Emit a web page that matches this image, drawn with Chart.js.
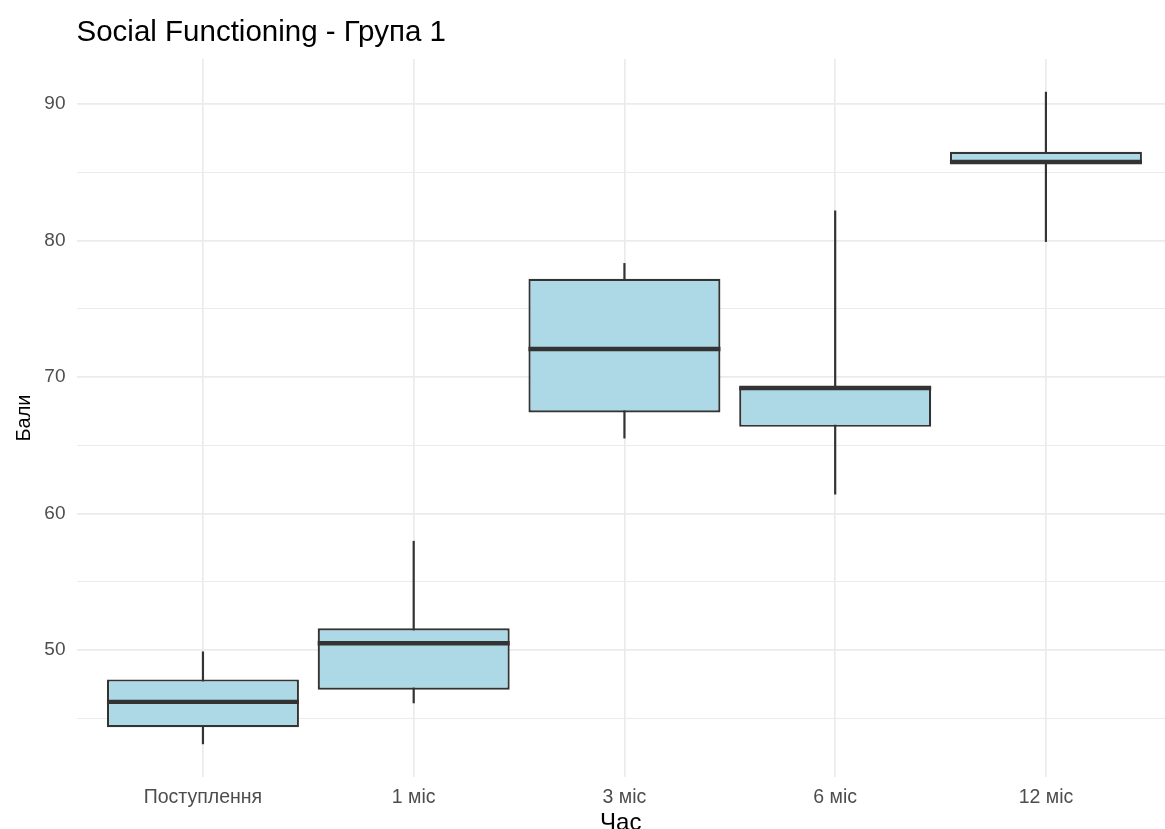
<!DOCTYPE html>
<html>
<head>
<meta charset="utf-8">
<script src="https://cdn.jsdelivr.net/npm/chart.js@4.4.1/dist/chart.umd.min.js"></script>
<style>
  html, body { margin: 0; padding: 0; background: #ffffff; }
  canvas { display: block; }
</style>
</head>
<body>
<canvas id="chart" width="1165" height="829"></canvas>
<script>
// Time points and box-plot statistics for each one
const categories  = ['Поступлення', '1 міс', '3 міс', '6 міс', '12 міс'];
const whiskerLow  = [43.1, 46.1, 65.5, 61.4, 79.9];
const q1          = [44.35, 47.1, 67.4, 66.35, 85.6];
const median      = [46.2, 50.5, 72.05, 69.2, 85.75];
const q3          = [47.85, 51.6, 77.2, 69.25, 86.5];
const whiskerHigh = [49.9, 58.0, 78.35, 82.2, 90.9];

// Y gridline positions; only multiples of ten carry a label
const yTickValues = [45, 50, 55, 60, 65, 70, 75, 80, 85, 90];
const yLabelStep = 10;

const FONT = '"Liberation Sans", Arial, Helvetica, sans-serif';
const BOX_FILL = '#ADD8E6';
const BOX_LINE = '#333333';
const GRID = '#EBEBEB';

const boxData = categories.map((c, i) => ({ x: i, y: [q1[i], q3[i]] }));

// Whiskers go behind the boxes, median bars on top of them
const boxWhiskers = {
  id: 'boxWhiskers',
  beforeDatasetsDraw(chart) {
    const { ctx, scales: { x, y } } = chart;
    ctx.save();
    ctx.strokeStyle = BOX_LINE;
    ctx.lineWidth = 2.2;
    ctx.lineCap = 'butt';
    categories.forEach((_, i) => {
      const px = x.getPixelForValue(i);
      ctx.beginPath();
      ctx.moveTo(px, y.getPixelForValue(whiskerHigh[i]));
      ctx.lineTo(px, y.getPixelForValue(whiskerLow[i]));
      ctx.stroke();
    });
    ctx.restore();
  },
  afterDatasetsDraw(chart) {
    const { ctx, scales: { y } } = chart;
    const meta = chart.getDatasetMeta(0);
    ctx.save();
    ctx.strokeStyle = BOX_LINE;
    ctx.lineWidth = 4.4;
    ctx.lineCap = 'butt';
    meta.data.forEach((bar, i) => {
      const py = y.getPixelForValue(median[i]);
      ctx.beginPath();
      ctx.moveTo(bar.x - bar.width / 2, py);
      ctx.lineTo(bar.x + bar.width / 2, py);
      ctx.stroke();
    });
    ctx.restore();
  }
};

new Chart(document.getElementById('chart'), {
  type: 'bar',
  data: {
    datasets: [{
      data: boxData,
      backgroundColor: BOX_FILL,
      borderColor: BOX_LINE,
      borderWidth: 2.2,
      borderSkipped: false,
      barPercentage: 0.911,
      categoryPercentage: 1.0
    }]
  },
  plugins: [boxWhiskers],
  options: {
    responsive: false,
    animation: false,
    layout: { padding: 0 },
    plugins: {
      legend: { display: false },
      tooltip: { enabled: false },
      title: {
        display: true,
        text: 'Social Functioning - Група 1',
        align: 'start',
        fullSize: false,
        color: '#000000',
        font: { family: FONT, size: 29.5, weight: 'normal', lineHeight: 1 },
        padding: { top: 18, bottom: 11.5 }
      }
    },
    scales: {
      x: {
        type: 'linear',
        offset: false,
        min: -0.6,
        max: 4.565,
        afterBuildTicks(scale) {
          scale.ticks = categories.map((_, i) => ({ value: i }));
        },
        afterFit(scale) { scale.height = 52; },
        grid: { color: GRID, lineWidth: 1.7, drawTicks: false, offset: false },
        border: { display: false },
        ticks: {
          autoSkip: false,
          maxRotation: 0,
          padding: 8.5,
          color: '#4D4D4D',
          font: { family: FONT, size: 19.5 },
          callback: (v) => categories[v]
        },
        title: {
          display: true,
          text: 'Час',
          color: '#000000',
          font: { family: FONT, size: 24, lineHeight: 1 },
          padding: { top: 0, bottom: -6.5 }
        }
      },
      y: {
        type: 'linear',
        min: 40.7,
        max: 93.3,
        afterBuildTicks(scale) {
          scale.ticks = yTickValues.map(v => ({ value: v }));
        },
        afterFit(scale) { scale.width = 76.5; },
        grid: {
          color: GRID,
          lineWidth: (ctx) => (ctx.tick && ctx.tick.value % yLabelStep === 0 ? 1.7 : 1.0),
          drawTicks: false
        },
        border: { display: false },
        ticks: {
          padding: 11,
          color: '#4D4D4D',
          font: { family: FONT, size: 19 },
          callback: (v) => (v % yLabelStep === 0 ? String(v) : '')
        },
        title: {
          display: true,
          text: 'Бали',
          color: '#000000',
          font: { family: FONT, size: 20, lineHeight: 1 },
          padding: { top: 14, bottom: 0 }
        }
      }
    }
  }
});
</script>
</body>
</html>
